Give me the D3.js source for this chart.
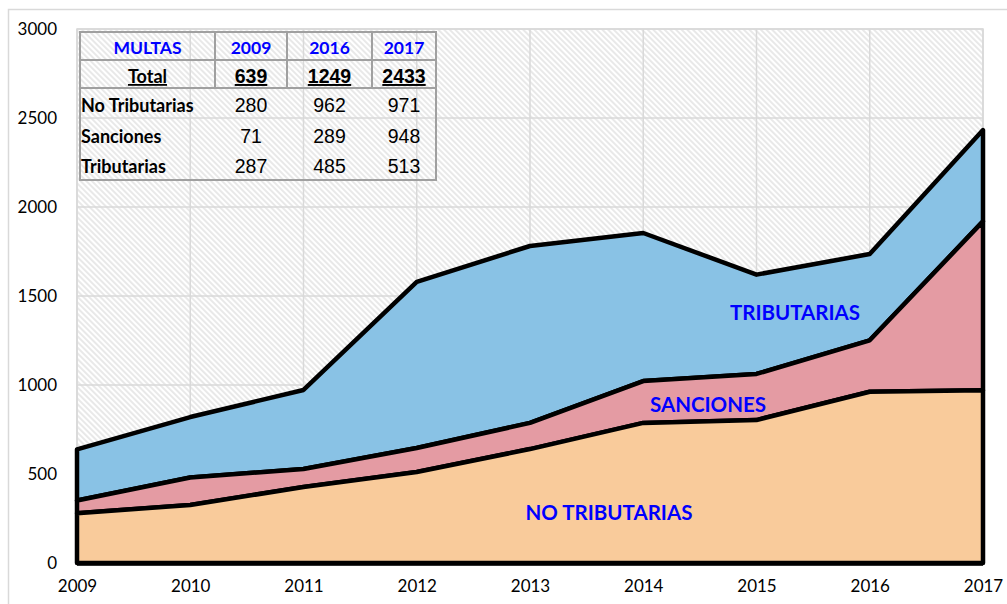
<!DOCTYPE html>
<html>
<head>
<meta charset="utf-8">
<script src="https://cdn.jsdelivr.net/npm/d3@7"></script>
<style>
  body { margin: 0; background: #fff; }
  svg { display: block; }
</style>
</head>
<body>
<div id="chart"></div>
<script>
// values
const years = [2009, 2010, 2011, 2012, 2013, 2014, 2015, 2016, 2017];
const noTributarias = [280, 326, 427, 511, 640, 787, 803, 962, 971];
const sanciones = [71, 154, 101, 135, 147, 235, 259, 289, 948];
const tributarias = [287, 340, 444, 933, 994, 832, 558, 485, 513];
const yTicks = [0, 500, 1000, 1500, 2000, 2500, 3000];

// summary table
const tableTitle = "MULTAS";
const tableYears = ["2009", "2016", "2017"];
const tableTotals = ["639", "1249", "2433"];
const tableRows = ["No Tributarias", "Sanciones", "Tributarias"];
const tableValues = [[280, 962, 971], [71, 289, 948], [287, 485, 513]];

const seriesNames = ["No Tributarias", "Sanciones", "Tributarias"];
const seriesLabels = ["NO TRIBUTARIAS", "SANCIONES", "TRIBUTARIAS"];
const seriesColors = ["#f9cb9b", "#e49ba3", "#89c2e5"];

const width = 1007, height = 604;
const margin = {top: 29, right: 24, bottom: 41, left: 77};
const calibri = "Lato, 'Open Sans', sans-serif";
const arial = "'Liberation Sans', Arial, sans-serif";

const svg = d3.select("#chart")
    .append("svg")
    .attr("width", width)
    .attr("height", height);

// hatched background
const defs = svg.append("defs");
const pat = defs.append("pattern")
    .attr("id", "hatch")
    .attr("patternUnits", "userSpaceOnUse")
    .attr("width", 4)
    .attr("height", 4)
    .attr("patternTransform", "rotate(-45)");
pat.append("rect").attr("width", 4).attr("height", 4).attr("fill", "#ffffff");
pat.append("line")
    .attr("x1", 1).attr("y1", 0).attr("x2", 1).attr("y2", 4)
    .attr("stroke", "#dadada")
    .attr("stroke-width", 1.2);

// outer chart frame
svg.append("rect")
    .attr("x", 8.5).attr("y", 9.5)
    .attr("width", 1010).attr("height", 610)
    .attr("fill", "none")
    .attr("stroke", "#d9d9d9")
    .attr("stroke-width", 1.5);

const x = d3.scaleLinear()
    .domain([years[0], years[years.length - 1]])
    .range([margin.left, width - margin.right]);
const y = d3.scaleLinear()
    .domain([0, 3000])
    .range([height - margin.bottom, margin.top]);

// plot area
svg.append("rect")
    .attr("x", x.range()[0]).attr("y", y(3000))
    .attr("width", x.range()[1] - x.range()[0])
    .attr("height", y(0) - y(3000))
    .attr("fill", "url(#hatch)")
    .attr("stroke", "#d9d9d9")
    .attr("stroke-width", 1.5);

// gridlines
svg.append("g").selectAll("line")
    .data(yTicks)
    .join("line")
    .attr("x1", x.range()[0]).attr("x2", x.range()[1])
    .attr("y1", d => y(d)).attr("y2", d => y(d))
    .attr("stroke", "#d9d9d9")
    .attr("stroke-width", 1.5);
svg.append("g").selectAll("line")
    .data(years)
    .join("line")
    .attr("x1", d => x(d)).attr("x2", d => x(d))
    .attr("y1", y(0)).attr("y2", y(3000))
    .attr("stroke", "#d9d9d9")
    .attr("stroke-width", 1.5);

// stacked areas
const rows = years.map((yr, i) => ({
    year: yr,
    "No Tributarias": noTributarias[i],
    "Sanciones": sanciones[i],
    "Tributarias": tributarias[i]
}));
const stacked = d3.stack().keys(seriesNames)(rows);

const area = d3.area()
    .x(d => x(d.data.year))
    .y0(d => y(d[0]))
    .y1(d => y(d[1]));

svg.append("g").selectAll("path")
    .data(stacked.slice().reverse())
    .join("path")
    .attr("d", area)
    .attr("fill", (d) => seriesColors[seriesNames.indexOf(d.key)])
    .attr("stroke", "#000")
    .attr("stroke-width", 4.5)
    .attr("stroke-linejoin", "round");

// bottom axis line
svg.append("line")
    .attr("x1", x.range()[0]).attr("x2", x.range()[1])
    .attr("y1", y(0) + 2).attr("y2", y(0) + 2)
    .attr("stroke", "#000")
    .attr("stroke-width", 1.5);

// axes labels
const yAxis = d3.axisLeft(y).tickValues(yTicks).tickFormat(d3.format("d")).tickSize(0).tickPadding(20);
svg.append("g")
    .attr("transform", `translate(${x.range()[0]},0)`)
    .call(yAxis)
    .call(g => g.select(".domain").remove())
    .selectAll("text")
    .attr("font-family", calibri)
    .attr("font-size", 17)
    .attr("fill", "#000");

const xAxis = d3.axisBottom(x).tickValues(years).tickFormat(d3.format("d")).tickSize(0).tickPadding(17);
svg.append("g")
    .attr("transform", `translate(0,${y(0)})`)
    .call(xAxis)
    .call(g => g.select(".domain").remove())
    .selectAll("text")
    .attr("font-family", calibri)
    .attr("font-size", 17)
    .attr("fill", "#000");

// series labels
const labelPos = [[609, 520], [708, 412], [795, 320]];
svg.append("g").selectAll("text")
    .data(seriesLabels)
    .join("text")
    .attr("x", (d, i) => labelPos[i][0])
    .attr("y", (d, i) => labelPos[i][1])
    .attr("text-anchor", "middle")
    .attr("font-family", calibri)
    .attr("font-weight", "bold")
    .attr("font-size", 20.5)
    .attr("fill", "#0000ff")
    .text(d => d);

// table
const tbl = svg.append("g");
const colX = [80, 215, 287, 372, 436];
const rowY = [32, 60, 88, 180];
const colMid = [1, 2, 3].map(i => (colX[i] + colX[i + 1]) / 2);

tbl.append("rect")
    .attr("x", colX[0]).attr("y", rowY[0])
    .attr("width", colX[4] - colX[0]).attr("height", rowY[3] - rowY[0])
    .attr("fill", "none")
    .attr("stroke", "#a0a0a0")
    .attr("stroke-width", 2);
[rowY[1], rowY[2]].forEach(ry => {
    tbl.append("line")
        .attr("x1", colX[0]).attr("x2", colX[4])
        .attr("y1", ry).attr("y2", ry)
        .attr("stroke", "#a0a0a0").attr("stroke-width", 2);
});
[colX[1], colX[2], colX[3]].forEach(cx => {
    tbl.append("line")
        .attr("x1", cx).attr("x2", cx)
        .attr("y1", rowY[0]).attr("y2", rowY[2])
        .attr("stroke", "#a0a0a0").attr("stroke-width", 2);
});

tbl.append("text")
    .attr("x", (colX[0] + colX[1]) / 2).attr("y", 54)
    .attr("text-anchor", "middle")
    .attr("font-family", calibri).attr("font-weight", "bold").attr("font-size", 17.5)
    .attr("fill", "#0000ff")
    .text(tableTitle);
tbl.selectAll(".yr")
    .data(tableYears)
    .join("text")
    .attr("x", (d, i) => colMid[i]).attr("y", 54)
    .attr("text-anchor", "middle")
    .attr("font-family", calibri).attr("font-weight", "bold").attr("font-size", 17.5)
    .attr("fill", "#0000ff")
    .text(d => d);

tbl.append("text")
    .attr("x", (colX[0] + colX[1]) / 2).attr("y", 83)
    .attr("text-anchor", "middle")
    .attr("font-family", calibri).attr("font-weight", "bold").attr("font-size", 18)
    .attr("text-decoration", "underline")
    .text("Total");
tbl.selectAll(".tot")
    .data(tableTotals)
    .join("text")
    .attr("x", (d, i) => colMid[i]).attr("y", 83)
    .attr("text-anchor", "middle")
    .attr("font-family", arial).attr("font-weight", "bold").attr("font-size", 19.5)
    .attr("text-decoration", "underline")
    .text(d => d);

const rowBase = [112, 143, 173];
tableRows.forEach((name, r) => {
    tbl.append("text")
        .attr("x", 81).attr("y", rowBase[r])
        .attr("font-family", calibri).attr("font-weight", "bold").attr("font-size", 18)
        .text(name);
    tbl.selectAll(".v" + r)
        .data(tableValues[r])
        .join("text")
        .attr("x", (d, i) => colMid[i]).attr("y", rowBase[r])
        .attr("text-anchor", "middle")
        .attr("font-family", arial).attr("font-size", 19.5)
        .text(d => d);
});
</script>
</body>
</html>
